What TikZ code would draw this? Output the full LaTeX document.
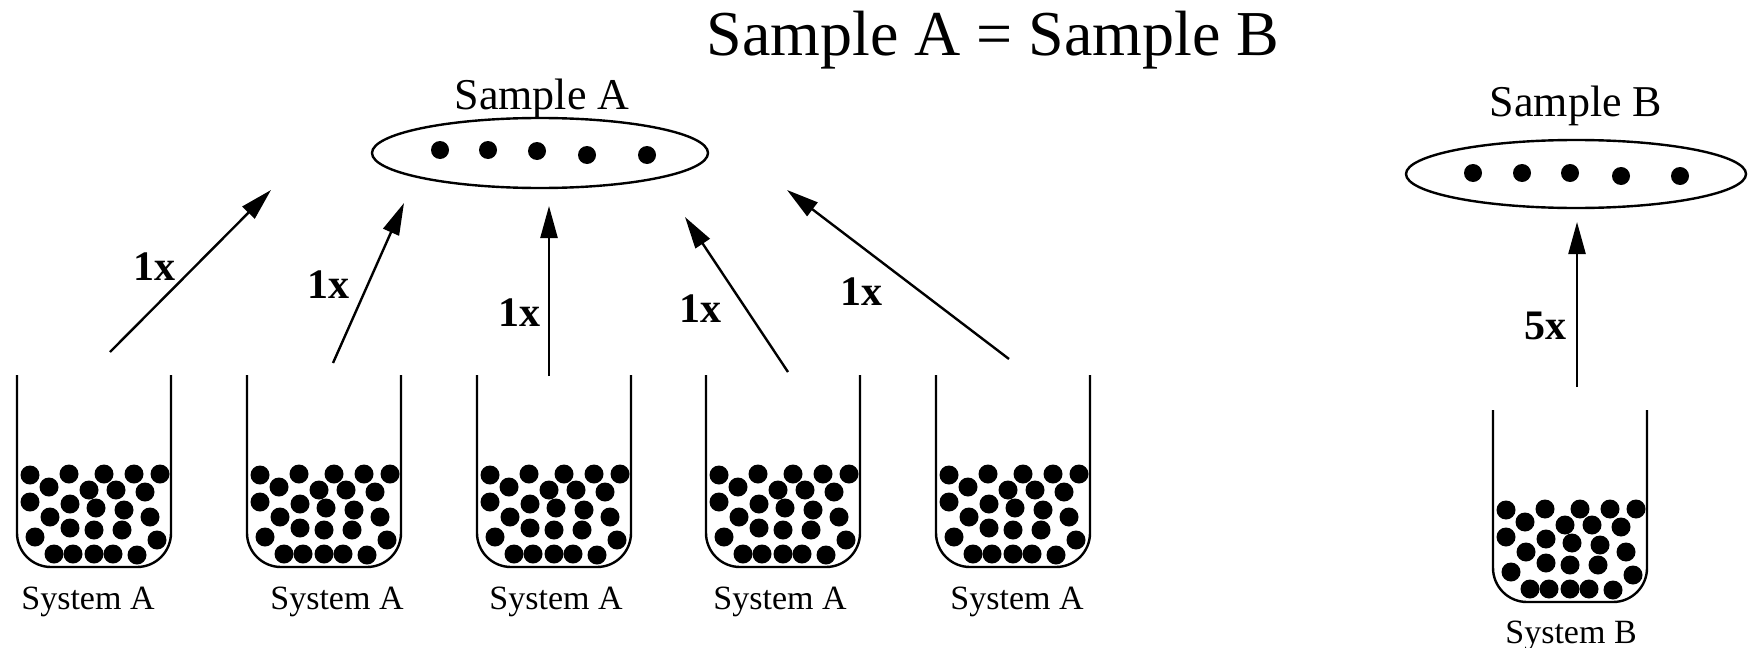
\documentclass[tikz,border=0pt]{standalone}
\usepackage{fontspec}
\setmainfont{Liberation Serif}
\usetikzlibrary{arrows.meta,shapes.geometric}
\begin{document}
\begin{tikzpicture}[x=0.5pt,y=-0.5pt,
  wall/.style={line width=1.2pt,rounded corners=17pt},
  ball/.style={fill=black},
  dotball/.style={fill=black},
  sample/.style={draw,ellipse,line width=1.2pt,inner sep=0pt},
  flow/.style={line width=1.2pt,-{Triangle[length=16pt,width=8.5pt]}},
  mult/.style={font=\fontsize{21}{24}\selectfont\bfseries},
  syslabel/.style={anchor=base,font=\fontsize{17}{20}\selectfont},
  samplabel/.style={anchor=base,font=\fontsize{22}{26}\selectfont},
  titlelabel/.style={anchor=base,font=\fontsize{32}{38}\selectfont}]
\useasboundingbox (0,0) rectangle (1748,647);
% beaker macro
\newcommand\mybeaker[3]{% #1 left x, #2 top y, #3 name
  \draw[wall] (#1,#2) -- (#1,#2+192) -- (#1+154,#2+192) -- (#1+154,#2);
  \foreach \dx/\dy in {13/92,52/93,87/93,117/93,143/93,
                       32/80,72/77,99/77,128/75,
                       13/65,53/63,79/59,107/57,
                       33/50,133/50,
                       53/39,77/37,105/37,
                       18/30,140/27,
                       37/13,56/13,77/13,96/13,120/12}
    \fill[ball] (#1+\dx,#2+192-\dy) circle (9.5);
  \coordinate (#3) at (#1+77,#2);
}
\mybeaker{17}{375}{b1}
\mybeaker{247}{375}{b2}
\mybeaker{477}{375}{b3}
\mybeaker{706}{375}{b4}
\mybeaker{936}{375}{b5}
\mybeaker{1493}{410}{bB}

% labels under beakers
\node[syslabel] (l1) at (88,609) {System A};
\node[syslabel] (l2) at (337,609) {System A};
\node[syslabel] (l3) at (556,609) {System A};
\node[syslabel] (l4) at (780,609) {System A};
\node[syslabel] (l5) at (1017,609) {System A};
\node[syslabel] (lB) at (1571,643) {System B};

% samples
\node[sample,minimum width=168pt,minimum height=35pt] (sA) at (540,153) {};
\foreach \x/\y in {440/150,488/150,537/151,587/155,647/155}
  \fill[dotball] (\x,\y) circle (9);
\node[samplabel] (tA) at (542,110) {Sample A};

\node[sample,minimum width=170pt,minimum height=34pt] (sB) at (1576,174) {};
\foreach \x in {1473,1522,1570}
  \fill[dotball] (\x,173) circle (9);
\foreach \x in {1621,1680}
  \fill[dotball] (\x,176) circle (9);
\node[samplabel] (tB) at (1576,117) {Sample B};

\node[titlelabel] (title) at (993,56) {Sample A = Sample B};

% arrow end points
\coordinate (s1) at (110,352);  \coordinate (e1) at (271,190);
\coordinate (s2) at (333,363);  \coordinate (e2) at (404,203);
\coordinate (s3) at (549,376);  \coordinate (e3) at (549,206);
\coordinate (s4) at (788,372);  \coordinate (e4) at (685,217);
\coordinate (s5) at (1009,359); \coordinate (e5) at (787,190);
\coordinate (sB0) at (1577,387); \coordinate (eB) at (1577,222);

\draw[flow] (s1) -- (e1);
\draw[flow] (s2) -- (e2);
\draw[flow] (s3) -- (e3);
\draw[flow] (s4) -- (e4);
\draw[flow] (s5) -- (e5);
\draw[flow] (sB0) -- (eB);

\node[mult] (m1) at (154,267) {1x};
\node[mult] (m2) at (328,285) {1x};
\node[mult] (m3) at (519,313) {1x};
\node[mult] (m4) at (700,309) {1x};
\node[mult] (m5) at (861,292) {1x};
\node[mult] (mB) at (1545,326) {5x};
\end{tikzpicture}
\end{document}
